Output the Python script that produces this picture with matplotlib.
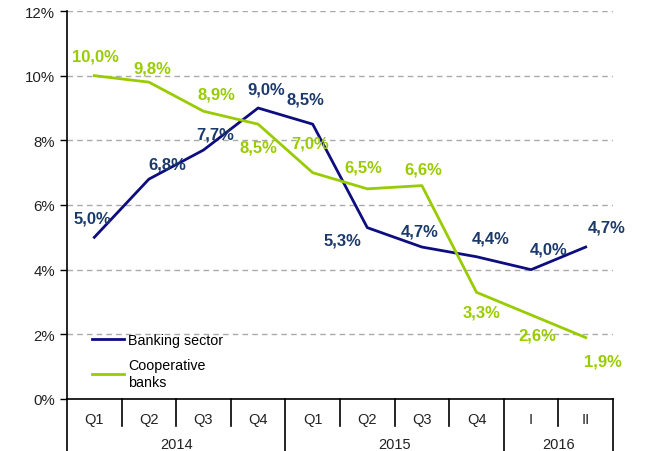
import matplotlib
matplotlib.use('Agg')
import matplotlib.pyplot as plt
import matplotlib.transforms as mtrans
import numpy as np

quarters = ['Q1', 'Q2', 'Q3', 'Q4', 'Q1', 'Q2', 'Q3', 'Q4', 'I', 'II']
years = ['2014', '2015', '2016']
year_spans = [(0, 4), (4, 8), (8, 10)]
banking = [5.0, 6.8, 7.7, 9.0, 8.5, 5.3, 4.7, 4.4, 4.0, 4.7]
coop = [10.0, 9.8, 8.9, 8.5, 7.0, 6.5, 6.6, 3.3, 2.6, 1.9]

# label offsets in pixels (dx, dy)
bank_off = [(-2, 19), (18, 15), (12, 16), (8, 19), (-7, 25), (-25, -12),
            (-2, 16), (14, 19), (18, 21), (21, 20)]
coop_off = [(1, 20), (3, 14), (13, 17), (0, -23), (-3, 30), (-4, 22),
            (1, 17), (5, -20), (6, -20), (17, -23)]

navy = '#0d0d80'
navy_txt = '#1b3a6b'
green = '#99cc00'

plt.rcParams['font.family'] = ['Liberation Sans', 'DejaVu Sans']

fig = plt.figure(figsize=(6.49, 4.52), dpi=100)
ax = fig.add_axes([67/649, 52/452, 546/649, 388/452])

x = np.arange(len(quarters))
ax.plot(x, banking, color=navy, lw=2, label='Banking sector')
ax.plot(x, coop, color=green, lw=2, label='Cooperative\nbanks')

for xi, v, off in zip(x, banking, bank_off):
    ax.annotate(f'{v:.1f}%'.replace('.', ','), (xi, v), xytext=off,
                textcoords='offset pixels', ha='center', va='center',
                fontsize=12, fontweight='bold', color=navy_txt)
for xi, v, off in zip(x, coop, coop_off):
    ax.annotate(f'{v:.1f}%'.replace('.', ','), (xi, v), xytext=off,
                textcoords='offset pixels', ha='center', va='center',
                fontsize=12, fontweight='bold', color=green)

ax.set_xlim(-0.5, len(quarters) - 0.5)
ax.set_ylim(0, 12)
ax.set_yticks(range(0, 13, 2))
ax.set_yticklabels([f'{t}%' for t in range(0, 13, 2)], fontsize=10.8,
                   color='#222222')
for t in range(2, 13, 2):
    ax.axhline(t, color='#aaaaaa', lw=1, ls=(0, (4, 3)), zorder=0)
ax.tick_params(axis='y', length=5, width=1, color='black')
ax.set_xticks([])
for s in ['top', 'right']:
    ax.spines[s].set_visible(False)
ax.spines['left'].set_linewidth(1.2)
ax.spines['bottom'].set_linewidth(1.2)

# category axis with separators
trans = mtrans.blended_transform_factory(ax.transData, ax.transAxes)
short = -27 / 388
long_ = -52 / 388
year_edges = [s[0] for s in year_spans] + [year_spans[-1][1]]
for i in range(len(quarters) + 1):
    xe = i - 0.5
    y1 = long_ if i in year_edges else short
    ax.plot([xe, xe], [0, y1], color='black', lw=1.2, transform=trans,
            clip_on=False)
for xi, q in zip(x, quarters):
    ax.text(xi, -20 / 388, q, transform=trans, ha='center', va='center',
            fontsize=10.5, color='#222222')
for (a, b), yr in zip(year_spans, years):
    ax.text((a + b - 1) / 2, -45 / 388, yr, transform=trans, ha='center',
            va='center', fontsize=10.5, color='#222222')

ax.legend(loc='upper left', bbox_to_anchor=(0.045, 0.17), frameon=False,
          fontsize=10.3, handlelength=2.3, handletextpad=0.25,
          labelspacing=0.8, borderpad=0, borderaxespad=0)

fig.savefig('out.png', dpi=100)
